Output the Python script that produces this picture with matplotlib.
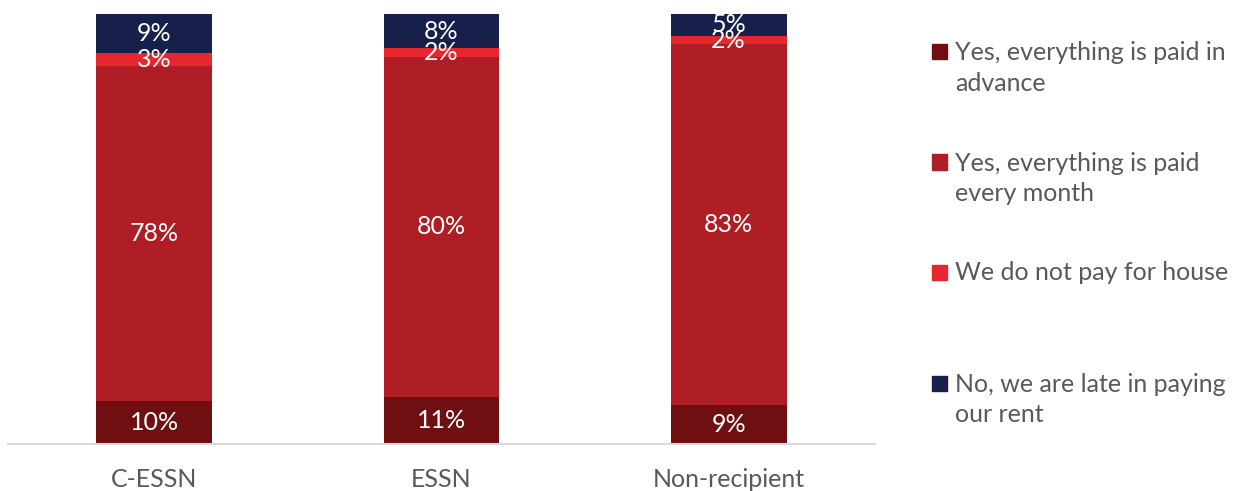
import matplotlib.pyplot as plt
import numpy as np
from matplotlib.patches import Rectangle

plt.rcParams['font.family'] = ['Lato', 'DejaVu Sans']

categories = ['C-ESSN', 'ESSN', 'Non-recipient']
series_names = ['Yes, everything is paid in\nadvance',
                'Yes, everything is paid\nevery month',
                'We do not pay for house',
                'No, we are late in paying\nour rent']
paid_advance = [10, 11, 9]
paid_monthly = [78, 80, 83]
not_pay = [3, 2, 2]
late_rent = [9, 8, 5]
colors = ['#6F0F12', '#AE1E24', '#E8262D', '#16204A']

values = np.array([paid_advance, paid_monthly, not_pay, late_rent], dtype=float)
shares = values / values.sum(axis=0) * 100  # 100% stacked

fig = plt.figure(figsize=(12.41, 4.91), dpi=100)
ax = fig.add_axes([8 / 1241, 47 / 491, 867 / 1241, 430 / 491])

x = np.arange(len(categories))
bottom = np.zeros(len(categories))
for vals, share, color in zip(values, shares, colors):
    ax.bar(x, share, bottom=bottom, width=0.404, color=color)
    for xi, b, s, v in zip(x, bottom, share, vals):
        ax.text(xi, b + s / 2, f'{v:.0f}%', ha='center', va='center',
                color='white', fontsize=18)
    bottom += share

ax.set_xlim(-0.51, 2.51)
ax.set_ylim(0, 100)
ax.set_yticks([])
ax.set_xticks(x)
ax.set_xticklabels(categories, fontsize=18, color='#595959')
ax.tick_params(axis='x', length=0, pad=17)
for side in ['top', 'right', 'left']:
    ax.spines[side].set_visible(False)
ax.spines['bottom'].set_color('#D9D9D9')
ax.spines['bottom'].set_linewidth(1.5)

# legend drawn by hand to match the uneven slot spacing
legend_y = [51.5, 162, 272, 383]
for name, color, y in zip(series_names, colors, legend_y):
    fig.patches.append(Rectangle((932 / 1241, 1 - (y + 7.5) / 491), 15 / 1241, 15 / 491,
                                 transform=fig.transFigure, color=color))
    extra = name.count('\n') * 16.5
    fig.text(955 / 1241, 1 - (y + extra) / 491, name, ha='left', va='center',
             fontsize=18, color='#595959', linespacing=1.38)

fig.savefig('out.png', dpi=100)
